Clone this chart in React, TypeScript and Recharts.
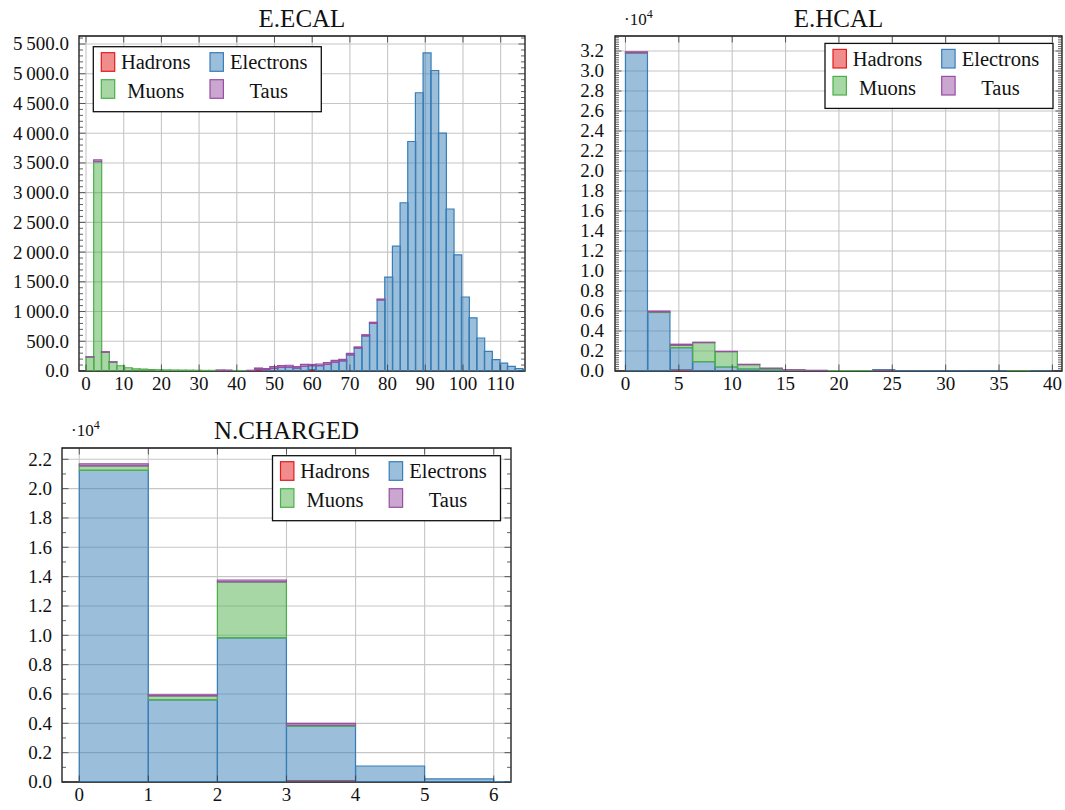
import React from 'react';
import { BarChart, Bar, XAxis, YAxis, CartesianGrid, ReferenceArea } from 'recharts';

// ---------- shared styling ----------
const FONT = "'Liberation Serif', 'Times New Roman', serif";
const TEXT = '#111';
const TICK = '#3a3a3a';
const GRID = '#c6c6c6';

const SERIES = [
  { key: 'hadrons', name: 'Hadrons', color: '#e41a1c' },
  { key: 'electrons', name: 'Electrons', color: '#377eb8' },
  { key: 'muons', name: 'Muons', color: '#4daf4a' },
  { key: 'taus', name: 'Taus', color: '#984ea3' },
];

// ---------- E.ECAL (58 bins) ----------
const ECAL_BIN_WIDTH = 2.032;
const ECAL_HADRONS = [0,0,0,0,0,0,0,0,0,0, 0,0,0,0,0,0,0,0,0,0, 0,0,25,0,0,0,0,0,0,25, 0,0,0,0,0,0,0,0,0,0, 0,0,0,0,0,0,0,0,0,0, 0,0,0,0,0,0,0,0];
const ECAL_ELECTRONS = [0,0,0,0,0,0,0,0,0,0, 0,0,0,0,0,0,0,0,0,0, 0,0,5,22,45,60,65,50,80,65, 90,110,150,170,270,385,590,800,1195,1580, 2100,2830,3860,4680,5350,5055,4000,2725,1955,1245, 895,555,330,190,132,78,42,25];
const ECAL_MUONS = [235,3520,315,150,88,55,35,33,25,20, 18,16,15,14,12,10,10,12,10,8, 6,0,0,0,0,0,0,0,0,0, 0,0,0,0,0,0,0,0,0,0, 0,0,0,0,0,0,0,0,0,0, 0,0,0,0,0,0,0,0];
const ECAL_TAUS = [5,30,10,5,0,0,0,0,0,0, 0,0,0,0,0,0,0,4,4,0, 0,12,20,18,28,30,32,25,30,20, 28,30,28,25,25,20,20,20,15,0, 0,0,0,0,0,0,0,0,0,0, 0,0,0,0,0,0,0,0];
const ECAL_X_TICKS = [0, 10, 20, 30, 40, 50, 60, 70, 80, 90, 100, 110];
const ECAL_Y_TICKS = [0, 500, 1000, 1500, 2000, 2500, 3000, 3500, 4000, 4500, 5000, 5500];

// ---------- E.HCAL (19 bins over 0..40) ----------
const HCAL_BIN_WIDTH = 40 / 19;
const HCAL_HADRONS = [0,0,100,0,0,0,0,0,0,0,0,100,0,0,0,0,0,0,0];
const HCAL_ELECTRONS = [31800,5850,2240,940,400,200,100,60,40,30,25,20,15,15,10,10,8,0,10];
const HCAL_MUONS = [20,60,240,1900,1540,440,170,40,15,10,5,0,0,0,0,0,0,15,0];
const HCAL_TAUS = [100,80,100,40,20,30,10,20,5,0,0,0,0,0,0,0,0,0,0];
const HCAL_X_TICKS = [0, 5, 10, 15, 20, 25, 30, 35, 40];
const HCAL_Y_TICKS = [0, 2000, 4000, 6000, 8000, 10000, 12000, 14000, 16000, 18000, 20000, 22000, 24000, 26000, 28000, 30000, 32000];

// ---------- N.CHARGED (unit bins) ----------
const NCH_BIN_WIDTH = 1;
const NCH_HADRONS = [0, 0, 0, 100, 0, 0, 0];
const NCH_ELECTRONS = [21250, 5600, 9830, 3700, 1090, 210, 30];
const NCH_MUONS = [300, 270, 3820, 70, 0, 0, 0];
const NCH_TAUS = [140, 70, 120, 120, 0, 0, 0];
const NCH_X_TICKS = [0, 1, 2, 3, 4, 5, 6];
const NCH_Y_TICKS = [0, 2000, 4000, 6000, 8000, 10000, 12000, 14000, 16000, 18000, 20000, 22000];

function buildRows(width: number, h: number[], e: number[], m: number[], t: number[]) {
  return h.map((_, i) => ({
    x: (i + 0.5) * width,
    hadrons: h[i],
    electrons: e[i],
    muons: m[i],
    taus: t[i],
  }));
}

function withMinor(majors: number[], parts: number, max: number) {
  const out: number[] = [];
  const step = majors[1] - majors[0];
  for (let i = 0; i < majors.length; i++) {
    const base = majors[i];
    for (let j = 0; j < parts; j++) {
      const v = base + (step * j) / parts;
      if (v <= max) out.push(v);
    }
  }
  return out;
}

const fmtThousands = (v: number) => {
  if (v >= 1000) {
    const hi = Math.floor(v / 1000);
    const lo = String(Math.round(v % 1000)).padStart(3, '0');
    return `${hi}\u2009${lo}.0`;
  }
  return `${v}.0`;
};
const fmtE4 = (v: number) => (v / 1e4).toFixed(1);

type PanelProps = {
  left: number;
  top: number;
  width: number;
  height: number;
  margin: { top: number; right: number; bottom: number; left: number };
  yAxisWidth: number;
  xAxisHeight: number;
  yTickMargin: number;
  rows: any[];
  xDomain: [number, number];
  xTicks: number[];
  yMax: number;
  yMajor: number[];
  yMinorParts: number;
  fmtY: (v: number) => string;
};

function HistPanel(p: PanelProps) {
  const plotW = p.width - p.margin.left - p.margin.right - p.yAxisWidth;
  const plotH = p.height - p.margin.top - p.margin.bottom - p.xAxisHeight;
  const yAll = withMinor(p.yMajor, p.yMinorParts, p.yMax);
  const xTickMargin = 6;

  const YTick = (props: any) => {
    const { x, y, payload } = props;
    const v = payload.value;
    const major = p.yMajor.some((m) => Math.abs(m - v) < 1e-6);
    const fx = x + p.yTickMargin;
    const len = major ? 6.5 : 4;
    return (
      <g>
        <line x1={fx} x2={fx + len} y1={y} y2={y} stroke={TICK} strokeWidth={0.8} />
        <line x1={fx + plotW} x2={fx + plotW - len} y1={y} y2={y} stroke={TICK} strokeWidth={0.8} />
        {major && (
          <text x={x} y={y} dy="0.34em" textAnchor="end" fontFamily={FONT} fontSize={19} fill={TEXT}>
            {p.fmtY(v)}
          </text>
        )}
      </g>
    );
  };

  const XTick = (props: any) => {
    const { x, y, payload } = props;
    const fy = y - xTickMargin;
    return (
      <g>
        <line x1={x} x2={x} y1={fy} y2={fy - 6.5} stroke={TICK} strokeWidth={0.8} />
        <line x1={x} x2={x} y1={fy - plotH} y2={fy - plotH + 6.5} stroke={TICK} strokeWidth={0.8} />
        <text x={x} y={y} dy="0.68em" textAnchor="middle" fontFamily={FONT} fontSize={19} fill={TEXT}>
          {payload.value}
        </text>
      </g>
    );
  };

  return (
    <div style={{ position: 'absolute', left: p.left, top: p.top, width: p.width, height: p.height }}>
      <BarChart
        width={p.width}
        height={p.height}
        data={p.rows}
        margin={p.margin}
        barCategoryGap={0}
        barGap={0}
      >
        <CartesianGrid
          stroke={GRID}
          strokeWidth={1.1}
          horizontalValues={p.yMajor}
          verticalValues={p.xTicks}
        />
        <XAxis
          dataKey="x"
          type="number"
          domain={p.xDomain}
          allowDataOverflow
          ticks={p.xTicks}
          interval={0}
          height={p.xAxisHeight}
          axisLine={false}
          tickLine={false}
          tickSize={0}
          tickMargin={xTickMargin}
          tick={XTick}
        />
        <YAxis
          type="number"
          domain={[0, p.yMax]}
          allowDataOverflow
          ticks={yAll}
          interval={0}
          width={p.yAxisWidth}
          axisLine={false}
          tickLine={false}
          tickSize={0}
          tickMargin={p.yTickMargin}
          tick={YTick}
        />
        {SERIES.map((s) => (
          <Bar
            key={s.key}
            dataKey={s.key}
            name={s.name}
            stackId="all"
            fill={s.color}
            fillOpacity={0.5}
            stroke={s.color}
            strokeWidth={1.2}
            isAnimationActive={false}
          />
        ))}
        <ReferenceArea
          x1={p.xDomain[0]}
          x2={p.xDomain[1]}
          y1={0}
          y2={p.yMax}
          ifOverflow="visible"
          fill="none"
          fillOpacity={0}
          stroke="#111"
          strokeWidth={1.3}
        />
      </BarChart>
    </div>
  );
}

function LegendBox({ x, y }: { x: number; y: number }) {
  const swatchX = [8, 116.7];
  const textCX = [62.4, 175.4];
  const swatchY = [6, 33];
  const baseY = [22.6, 51.3];
  return (
    <g transform={`translate(${x},${y})`}>
      <rect x={0} y={0} width={228} height={65} fill="#fff" stroke="#111" strokeWidth={1.3} />
      {SERIES.map((s, i) => {
        const r = Math.floor(i / 2);
        const c = i % 2;
        return (
          <g key={s.key}>
            <rect
              x={swatchX[c]}
              y={swatchY[r]}
              width={13.4}
              height={18.6}
              fill={s.color}
              fillOpacity={0.5}
              stroke={s.color}
              strokeWidth={1.2}
            />
            <text x={textCX[c]} y={baseY[r]} textAnchor="middle" fontFamily={FONT} fontSize={20.5} fill={TEXT}>
              {s.name}
            </text>
          </g>
        );
      })}
    </g>
  );
}

function ScaleLabel({ x, y }: { x: number; y: number }) {
  return (
    <text x={x} y={y} fontFamily={FONT} fontSize={17} fill={TEXT}>
      ·10<tspan dy={-7} fontSize={12}>4</tspan>
    </text>
  );
}

const ecalRows = buildRows(ECAL_BIN_WIDTH, ECAL_HADRONS, ECAL_ELECTRONS, ECAL_MUONS, ECAL_TAUS);
const hcalRows = buildRows(HCAL_BIN_WIDTH, HCAL_HADRONS, HCAL_ELECTRONS, HCAL_MUONS, HCAL_TAUS);
const nchRows = buildRows(NCH_BIN_WIDTH, NCH_HADRONS, NCH_ELECTRONS, NCH_MUONS, NCH_TAUS);

export default function App() {
  return (
    <div style={{ position: 'absolute', left: 0, top: 0, width: 1065, height: 810, background: '#fff', overflow: 'hidden' }}>
      <HistPanel
        left={0}
        top={0}
        width={540}
        height={400}
        margin={{ top: 36, right: 15, bottom: 0, left: 0 }}
        yAxisWidth={79}
        xAxisHeight={29}
        yTickMargin={10}
        rows={ecalRows}
        xDomain={[-1.86, 116.45]}
        xTicks={ECAL_X_TICKS}
        yMax={5635}
        yMajor={ECAL_Y_TICKS}
        yMinorParts={5}
        fmtY={fmtThousands}
      />
      <HistPanel
        left={540}
        top={0}
        width={525}
        height={400}
        margin={{ top: 36, right: 3, bottom: 0, left: 0 }}
        yAxisWidth={75}
        xAxisHeight={29}
        yTickMargin={11}
        rows={hcalRows}
        xDomain={[-0.98, 40.9]}
        xTicks={HCAL_X_TICKS}
        yMax={33500}
        yMajor={HCAL_Y_TICKS}
        yMinorParts={9}
        fmtY={fmtE4}
      />
      <HistPanel
        left={0}
        top={400}
        width={540}
        height={410}
        margin={{ top: 48, right: 29, bottom: 0, left: 0 }}
        yAxisWidth={62}
        xAxisHeight={28}
        yTickMargin={10}
        rows={nchRows}
        xDomain={[-0.25, 6.25]}
        xTicks={NCH_X_TICKS}
        yMax={22770}
        yMajor={NCH_Y_TICKS}
        yMinorParts={2}
        fmtY={fmtE4}
      />
      <svg
        width={1065}
        height={810}
        style={{ position: 'absolute', left: 0, top: 0, pointerEvents: 'none' }}
      >
        <text x={302} y={26.5} textAnchor="middle" fontFamily={FONT} fontSize={25} fill={TEXT}>E.ECAL</text>
        <text x={838.5} y={26.5} textAnchor="middle" fontFamily={FONT} fontSize={25} fill={TEXT}>E.HCAL</text>
        <text x={286.5} y={438.5} textAnchor="middle" fontFamily={FONT} fontSize={25} fill={TEXT}>N.CHARGED</text>
        <ScaleLabel x={624} y={25} />
        <ScaleLabel x={71} y={436} />
        <LegendBox x={93.3} y={46.7} />
        <LegendBox x={825} y={43.4} />
        <LegendBox x={272.5} y={455.7} />
      </svg>
    </div>
  );
}
